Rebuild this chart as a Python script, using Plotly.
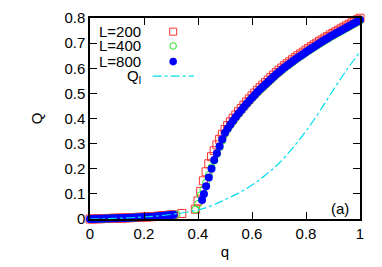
import plotly.graph_objects as go

# ---------------- data ----------------
q_low = [0.00, 0.01, 0.02, 0.03, 0.04, 0.05, 0.06, 0.07, 0.08, 0.09, 0.10,
         0.11, 0.12, 0.13, 0.14, 0.15, 0.16, 0.17, 0.18, 0.19, 0.20,
         0.21, 0.22, 0.23, 0.24, 0.25, 0.26, 0.27, 0.28, 0.29, 0.30,
         0.31, 0.32]
Q_low = [0.000, 0.000, 0.001, 0.001, 0.001, 0.002, 0.002, 0.002, 0.003, 0.003, 0.003,
         0.004, 0.004, 0.004, 0.005, 0.005, 0.006, 0.006, 0.007, 0.007, 0.008,
         0.008, 0.009, 0.009, 0.010, 0.011, 0.012, 0.013, 0.014, 0.015, 0.016,
         0.017, 0.018]

# L=200
q_200_mid = [0.34, 0.39, 0.40, 0.41, 0.42, 0.43, 0.44, 0.45, 0.46, 0.47, 0.48,
             0.49, 0.50, 0.51, 0.52, 0.53, 0.54, 0.55]
Q_200_mid = [0.022, 0.039, 0.072, 0.110, 0.152, 0.188, 0.220, 0.248, 0.272, 0.295, 0.317,
             0.337, 0.356, 0.372, 0.387, 0.401, 0.414, 0.427]
q_200_up = [round(0.56 + 0.01 * i, 2) for i in range(45)]
Q_200_up = [0.440, 0.453, 0.466, 0.478, 0.490, 0.501, 0.512, 0.523, 0.533, 0.543,
            0.553, 0.563, 0.573, 0.583, 0.592, 0.601, 0.610, 0.618, 0.626, 0.634,
            0.642, 0.650, 0.657, 0.664, 0.672, 0.679, 0.686, 0.693, 0.700, 0.707,
            0.713, 0.720, 0.726, 0.733, 0.739, 0.745, 0.751, 0.757, 0.763, 0.769,
            0.775, 0.781, 0.787, 0.793, 0.799]

# L=400
q_400_mid = [0.39, 0.40, 0.41, 0.42, 0.43, 0.44, 0.45, 0.46, 0.47, 0.48, 0.49, 0.50]
Q_400_mid = [0.038, 0.060, 0.095, 0.118, 0.145, 0.175, 0.205, 0.232, 0.258, 0.285, 0.312, 0.338]
q_upper = [round(0.51 + 0.01 * i, 2) for i in range(50)]
Q_400_up = [0.357, 0.373, 0.388, 0.403, 0.417, 0.430, 0.443, 0.456, 0.468, 0.480,
            0.491, 0.502, 0.513, 0.523, 0.533, 0.543, 0.553, 0.563, 0.573, 0.582,
            0.591, 0.600, 0.608, 0.616, 0.624, 0.632, 0.640, 0.647, 0.654, 0.662,
            0.669, 0.676, 0.683, 0.690, 0.697, 0.703, 0.710, 0.716, 0.723, 0.729,
            0.735, 0.741, 0.747, 0.753, 0.759, 0.765, 0.771, 0.777, 0.783, 0.790]

# L=800
q_800_mid = [0.415, 0.422, 0.43, 0.44, 0.45, 0.46, 0.47, 0.48, 0.49, 0.50]
Q_800_mid = [0.076, 0.100, 0.130, 0.165, 0.200, 0.235, 0.262, 0.290, 0.317, 0.343]
Q_800_up = [0.360, 0.376, 0.391, 0.406, 0.420, 0.433, 0.446, 0.459, 0.471, 0.483,
            0.494, 0.505, 0.516, 0.526, 0.536, 0.546, 0.556, 0.566, 0.576, 0.585,
            0.594, 0.603, 0.611, 0.619, 0.627, 0.635, 0.643, 0.650, 0.657, 0.665,
            0.672, 0.679, 0.686, 0.693, 0.700, 0.706, 0.713, 0.719, 0.726, 0.732,
            0.738, 0.744, 0.750, 0.756, 0.762, 0.768, 0.774, 0.780, 0.786, 0.793]

# Q_l curve
q_l = [0.00, 0.05, 0.10, 0.15, 0.20, 0.25, 0.30, 0.35, 0.40, 0.45, 0.50,
       0.55, 0.60, 0.65, 0.70, 0.75, 0.80, 0.85, 0.90, 0.95, 1.00]
Q_l = [0.000, 0.001, 0.003, 0.005, 0.008, 0.012, 0.018, 0.026, 0.036, 0.053, 0.077,
       0.103, 0.135, 0.175, 0.222, 0.282, 0.350, 0.428, 0.512, 0.592, 0.666]

x_ticks = [0, 0.2, 0.4, 0.6, 0.8, 1]
x_tick_text = ["0", "0.2", "0.4", "0.6", "0.8", "1"]
y_ticks = [0, 0.1, 0.2, 0.3, 0.4, 0.5, 0.6, 0.7, 0.8]
y_tick_text = ["0", "0.1", "0.2", "0.3", "0.4", "0.5", "0.6", "0.7", "0.8"]

legend_labels = ["L=200", "L=400", "L=800", "Q<sub>l</sub>"]

# ---------------- styling ----------------
RED = "rgb(255,50,50)"
GREEN = "rgb(40,230,40)"
BLUE = "rgb(0,0,255)"
CYAN = "rgb(0,220,235)"
FONT = "Liberation Sans, Arial, sans-serif"
FS = 15

fig = go.Figure()

fig.add_trace(go.Scatter(
    x=q_low[:32] + q_200_mid + q_200_up, y=Q_low[:32] + Q_200_mid + Q_200_up,
    mode="markers", cliponaxis=False,
    marker=dict(symbol="square-open", size=8, color=RED, line=dict(width=1, color=RED))))
fig.add_trace(go.Scatter(
    x=q_low + q_400_mid + q_upper, y=Q_low + Q_400_mid + Q_400_up,
    mode="markers", cliponaxis=False,
    marker=dict(symbol="circle-open", size=7, color=GREEN, line=dict(width=1, color=GREEN))))
fig.add_trace(go.Scatter(
    x=q_low[:32] + q_800_mid + q_upper, y=Q_low[:32] + Q_800_mid + Q_800_up,
    mode="markers", cliponaxis=False,
    marker=dict(symbol="circle", size=8, color=BLUE, line=dict(width=0))))
fig.add_trace(go.Scatter(
    x=q_l, y=Q_l, mode="lines", line=dict(color=CYAN, width=1.2, dash="dashdot", shape="spline")))

# ---------------- legend (gnuplot style: text left, sample right) ----------------
leg_y = [0.932, 0.861, 0.783, 0.711]
for lab, yy in zip(legend_labels, leg_y):
    fig.add_annotation(x=0.196, y=yy, xref="paper", yref="paper", text=lab,
                       showarrow=False, xanchor="right", yanchor="middle",
                       font=dict(size=FS, color="black", family=FONT))
shapes = [
    dict(type="rect", xref="paper", yref="paper", xsizemode="pixel", ysizemode="pixel",
         xanchor=0.308, yanchor=leg_y[0], x0=-3.5, x1=3.5, y0=-3.5, y1=3.5,
         line=dict(color=RED, width=1)),
    dict(type="circle", xref="paper", yref="paper", xsizemode="pixel", ysizemode="pixel",
         xanchor=0.308, yanchor=leg_y[1], x0=-3.3, x1=3.3, y0=-3.3, y1=3.3,
         line=dict(color=GREEN, width=1)),
    dict(type="circle", xref="paper", yref="paper", xsizemode="pixel", ysizemode="pixel",
         xanchor=0.308, yanchor=leg_y[2], x0=-3.8, x1=3.8, y0=-3.8, y1=3.8,
         line=dict(color=BLUE, width=0), fillcolor=BLUE),
    dict(type="line", xref="paper", yref="paper", x0=0.232, x1=0.385,
         y0=leg_y[3], y1=leg_y[3], line=dict(color=CYAN, width=1.2, dash="dashdot")),
]
fig.add_annotation(x=0.965, y=0.05, xref="paper", yref="paper", text="(a)",
                   showarrow=False, xanchor="right", yanchor="middle",
                   font=dict(size=FS, color="black", family=FONT))

axis_common = dict(showline=True, linecolor="black", linewidth=1.5, mirror="ticks",
                   ticks="inside", ticklen=7, tickwidth=1.2, tickcolor="black",
                   showgrid=False, zeroline=False, automargin=False,
                   tickfont=dict(size=FS, color="black", family=FONT))

# the page body has an 8px margin, so the figure is shifted by 8px
fig.update_layout(
    width=374, height=259,
    margin=dict(l=82, r=22, t=10, b=48),
    paper_bgcolor="white", plot_bgcolor="white",
    showlegend=False,
    shapes=shapes,
    font=dict(family=FONT, size=FS, color="black"),
    xaxis=dict(range=[0, 1], tickvals=x_ticks, ticktext=x_tick_text,
               title=dict(text="q", standoff=6, font=dict(size=FS, family=FONT)), **axis_common),
    yaxis=dict(range=[0, 0.8], tickvals=y_ticks, ticktext=y_tick_text,
               title=dict(text="Q", standoff=18, font=dict(size=FS, family=FONT)), **axis_common),
)

fig.write_html("out.html")
